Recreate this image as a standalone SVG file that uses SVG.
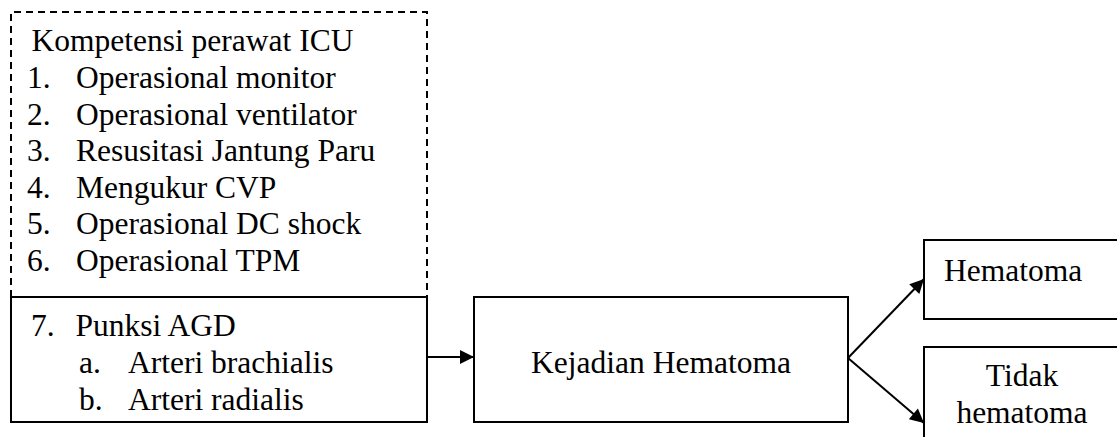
<svg xmlns="http://www.w3.org/2000/svg" width="1117" height="437" viewBox="0 0 1117 437">
<style>
text{font-family:"Liberation Serif","Times New Roman",serif;font-size:31.5px;fill:#000}
.box{fill:none;stroke:#000;stroke-width:2}
.dash{fill:none;stroke:#000;stroke-width:2;stroke-dasharray:7 5}
.conn{stroke:#000;stroke-width:2;fill:none}
</style>
<defs>
<marker id="ah" viewBox="0 0 10 10" refX="10" refY="5" markerWidth="16" markerHeight="14" markerUnits="userSpaceOnUse" orient="auto">
<path d="M0,0 L10,5 L0,10 Z" fill="#000"/>
</marker>
</defs>
<rect width="1117" height="437" fill="#fff"/>
<g id="kompetensi">
<path class="dash" d="M11,297 L11,12 L427,12 L427,297"/>
<text x="31.5" y="51">Kompetensi perawat ICU</text>
<text x="27" y="88">1.</text><text x="76" y="88">Operasional monitor</text>
<text x="27" y="124.5">2.</text><text x="76" y="124.5">Operasional ventilator</text>
<text x="27" y="161">3.</text><text x="76" y="161">Resusitasi Jantung Paru</text>
<text x="27" y="197.5">4.</text><text x="76" y="197.5">Mengukur CVP</text>
<text x="27" y="234">5.</text><text x="76" y="234">Operasional DC shock</text>
<text x="27" y="271">6.</text><text x="76" y="271">Operasional TPM</text>
</g>
<g id="punksi">
<rect class="box" x="11" y="297" width="416" height="125"/>
<text x="31" y="336">7.</text><text x="75.5" y="336">Punksi AGD</text>
<text x="79" y="373">a.</text><text x="128" y="373">Arteri brachialis</text>
<text x="79" y="410">b.</text><text x="128" y="410">Arteri radialis</text>
</g>
<g id="kejadian">
<rect class="box" x="474" y="297" width="374" height="125"/>
<text x="661" y="373" text-anchor="middle">Kejadian Hematoma</text>
</g>
<g id="hematoma">
<rect class="box" x="924" y="240" width="200" height="79"/>
<text x="944" y="281">Hematoma</text>
</g>
<g id="tidak">
<rect class="box" x="924" y="347" width="200" height="100"/>
<text x="1022" y="386" text-anchor="middle">Tidak</text>
<text x="1022" y="423" text-anchor="middle">hematoma</text>
</g>
<g id="connectors">
<line class="conn" x1="427" y1="357" x2="474" y2="357" marker-end="url(#ah)"/>
<line class="conn" x1="848" y1="358" x2="924" y2="279" marker-end="url(#ah)"/>
<line class="conn" x1="848" y1="358" x2="924" y2="423" marker-end="url(#ah)"/>
</g>
</svg>
